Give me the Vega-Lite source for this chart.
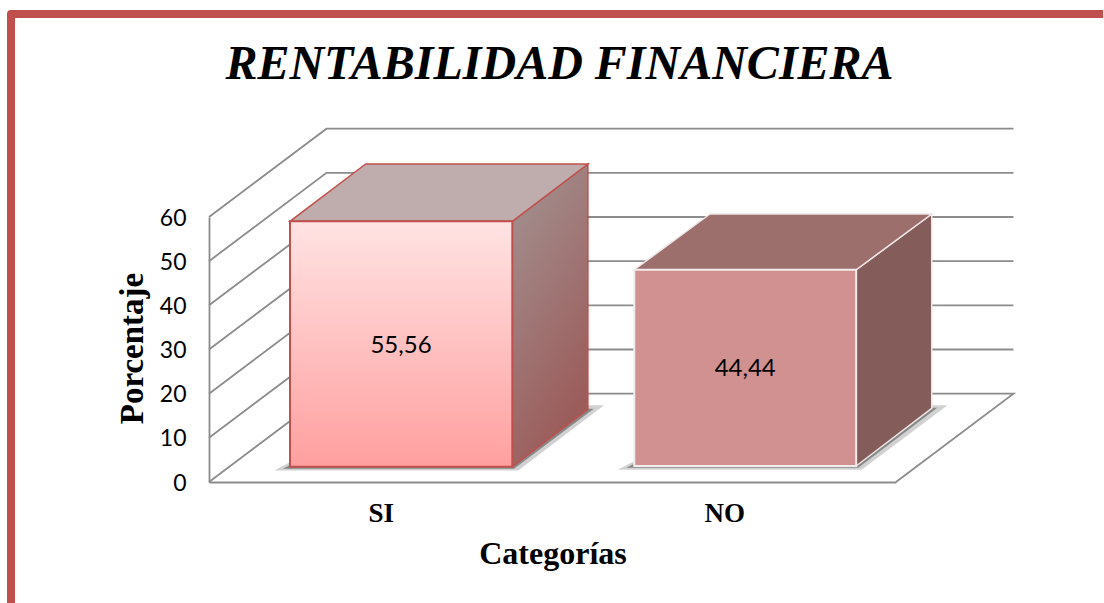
{
"$schema":"https://vega.github.io/schema/vega-lite/v6.json",
"width":687,"height":265,
"autosize":{"type":"none"},
"padding":{"left":209,"top":217,"right":208,"bottom":121},
"background":"white",
"view":{"stroke":null},
"title":{"text":"RENTABILIDAD FINANCIERA","font":"Liberation Serif","fontSize":48,"fontStyle":"italic","fontWeight":"bold","color":"black","anchor":"middle","dx":7,"baseline":"alphabetic","offset":-117},
"datasets":{
"frame":[{"x":2.603,"y":105.96,"o":1},{"x":-0.5764,"y":105.96,"o":2},{"x":-0.5764,"y":-27.4,"o":3}],
"grid":[
{"level":0,"x":2,"y":0,"o":1},{"level":0,"x":2.342,"y":20,"o":2},{"level":0,"x":0.342,"y":20,"o":3},{"level":0,"x":0,"y":0,"o":4},
{"level":10,"x":0,"y":10,"o":1},{"level":10,"x":0.342,"y":30,"o":2},{"level":10,"x":2.342,"y":30,"o":3},
{"level":20,"x":0,"y":20,"o":1},{"level":20,"x":0.342,"y":40,"o":2},{"level":20,"x":2.342,"y":40,"o":3},
{"level":30,"x":0,"y":30,"o":1},{"level":30,"x":0.342,"y":50,"o":2},{"level":30,"x":2.342,"y":50,"o":3},
{"level":40,"x":0,"y":40,"o":1},{"level":40,"x":0.342,"y":60,"o":2},{"level":40,"x":2.342,"y":60,"o":3},
{"level":50,"x":0,"y":50,"o":1},{"level":50,"x":0.342,"y":70,"o":2},{"level":50,"x":2.342,"y":70,"o":3},
{"level":60,"x":0,"y":60,"o":1},{"level":60,"x":0.342,"y":80,"o":2},{"level":60,"x":2.342,"y":80,"o":3}
],
"shadowOuter":[
{"bar":"SI","y":2.6,"x":0.19,"x2":0.9},{"bar":"SI","y":17.4,"x":0.55,"x2":1.15},
{"bar":"NO","y":2.8,"x":1.19,"x2":1.9},{"bar":"NO","y":17.4,"x":1.55,"x2":2.15}
],
"shadowInner":[
{"bar":"SI","y":3.0,"x":0.215,"x2":0.888},{"bar":"SI","y":16.6,"x":0.55,"x2":1.12},
{"bar":"NO","y":3.2,"x":1.215,"x2":1.89},{"bar":"NO","y":16.8,"x":1.55,"x2":2.12}
],
"sideSI":[{"x":0.883,"y":3.46,"y2":59.02},{"x":1.103,"y":16.46,"y2":72.0}],
"sideNO":[{"x":1.884,"y":3.62,"y2":48.06},{"x":2.104,"y":16.69,"y2":60.68}],
"topSI":[{"y":59.02,"x":0.2358,"x2":0.883},{"y":72.0,"x":0.456,"x2":1.103}],
"topNO":[{"y":48.06,"x":1.238,"x2":1.884},{"y":60.68,"x":1.4585,"x2":2.104}],
"frontSI":[{"cat":"SI","value":55.56,"x":0.2358,"x2":0.883,"y":3.46,"y2":59.02}],
"frontNO":[{"cat":"NO","value":44.44,"x":1.238,"x2":1.884,"y":3.62,"y2":48.06}],
"labels":[{"cat":"SI","label":"55,56","x":0.559,"y":30.8},{"cat":"NO","label":"44,44","x":1.561,"y":25.6}]
},
"encoding":{
"x":{"field":"x","type":"quantitative","scale":{"domain":[0,2],"nice":false,"zero":false},
"axis":{"values":[0.5,1.5],"labelExpr":"datum.value<1?'SI':'NO'","grid":false,"ticks":false,"domain":true,"domainColor":"#8c8c8c","domainWidth":1.8,"labelFont":"Liberation Serif","labelFontWeight":"bold","labelFontSize":27,"labelColor":"black","labelPadding":18,"labelAngle":0,"title":"Categorías","titleFont":"Liberation Serif","titleFontWeight":"bold","titleFontSize":32,"titleColor":"black","titleBaseline":"alphabetic","titleY":81}},
"y":{"field":"y","type":"quantitative","scale":{"domain":[0,60],"nice":false,"zero":false},
"axis":{"values":[0,10,20,30,40,50,60],"grid":false,"ticks":false,"domain":true,"domainColor":"#8c8c8c","domainWidth":1.8,"labelFont":"Lato","labelFontSize":23,"labelColor":"black","labelPadding":23,"labelOffset":1,"title":"Porcentaje","titleFont":"Liberation Serif","titleFontWeight":"bold","titleFontSize":33,"titleColor":"black","titleAngle":-90,"titleBaseline":"alphabetic","titleX":-67,"titleY":131}}
},
"layer":[
{"data":{"name":"frame"},"mark":{"type":"line","stroke":"#C0504D","strokeWidth":8,"strokeJoin":"round"},
"encoding":{"order":{"field":"o","type":"quantitative"}}},
{"data":{"name":"grid"},"mark":{"type":"line","stroke":"#8c8c8c","strokeWidth":1.8},
"encoding":{"detail":{"field":"level","type":"nominal"},"order":{"field":"o","type":"quantitative"}}},
{"data":{"name":"shadowOuter"},"mark":{"type":"area","orient":"horizontal","fill":"#666666","opacity":0.3},
"encoding":{"x2":{"field":"x2"},"detail":{"field":"bar","type":"nominal"}}},
{"data":{"name":"shadowInner"},"mark":{"type":"area","orient":"horizontal","fill":"#555555","opacity":0.6},
"encoding":{"x2":{"field":"x2"},"detail":{"field":"bar","type":"nominal"}}},
{"data":{"name":"sideSI"},"mark":{"type":"area","stroke":"#C0504D","strokeWidth":1.5,"fill":{"gradient":"linear","x1":0,"y1":0,"x2":0.4,"y2":1,"stops":[{"offset":0,"color":"#A39494"},{"offset":1,"color":"#9B5C5A"}]}},
"encoding":{"y2":{"field":"y2"}}},
{"data":{"name":"topSI"},"mark":{"type":"area","orient":"horizontal","fill":"#BFADAD","stroke":"#C0504D","strokeWidth":1.5},
"encoding":{"x2":{"field":"x2"}}},
{"data":{"name":"frontSI"},"mark":{"type":"rect","stroke":"#C0504D","strokeWidth":2,"fill":{"gradient":"linear","x1":0,"y1":0,"x2":0,"y2":1,"stops":[{"offset":0,"color":"#FFE3E3"},{"offset":1,"color":"#FF9F9F"}]}},
"encoding":{"x2":{"field":"x2"},"y2":{"field":"y2"}}},
{"data":{"name":"sideNO"},"mark":{"type":"area","fill":"#845C5A","stroke":"#EDE6E6","strokeWidth":1.5},
"encoding":{"y2":{"field":"y2"}}},
{"data":{"name":"topNO"},"mark":{"type":"area","orient":"horizontal","fill":"#9C6E6C","stroke":"#EDE6E6","strokeWidth":1.5},
"encoding":{"x2":{"field":"x2"}}},
{"data":{"name":"frontNO"},"mark":{"type":"rect","fill":"#D09190","stroke":"#F2ECEC","strokeWidth":2},
"encoding":{"x2":{"field":"x2"},"y2":{"field":"y2"}}},
{"data":{"name":"labels"},"mark":{"type":"text","font":"Lato","fontSize":24,"color":"black","align":"center","baseline":"middle"},
"encoding":{"text":{"field":"label","type":"nominal"}}}
]
}
